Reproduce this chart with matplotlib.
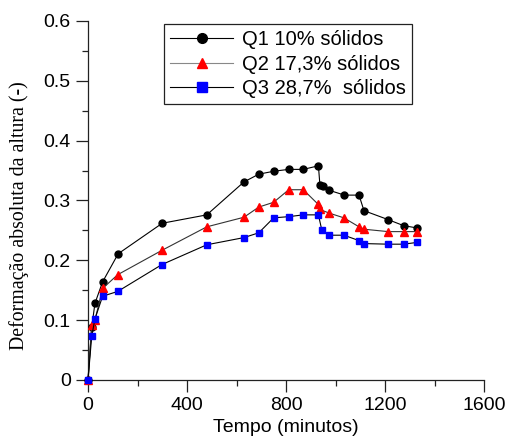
import matplotlib
matplotlib.use("Agg")
import matplotlib.pyplot as plt
from matplotlib.ticker import MultipleLocator, FuncFormatter

# Data
t_q1 = [0, 15, 28, 59, 122, 300, 480, 630, 690, 752, 811, 870, 931, 937, 948, 975, 1036, 1095, 1115, 1213, 1275, 1331]
y_q1 = [0, 0.088, 0.128, 0.164, 0.211, 0.262, 0.276, 0.331, 0.344, 0.349, 0.352, 0.352, 0.358, 0.326, 0.325, 0.317, 0.309, 0.309, 0.283, 0.268, 0.258, 0.254]

t_q2 = [0, 15, 28, 59, 120, 300, 480, 630, 690, 750, 811, 870, 929, 937, 974, 1034, 1095, 1115, 1213, 1275, 1331]
y_q2 = [0, 0.092, 0.100, 0.153, 0.176, 0.217, 0.256, 0.272, 0.289, 0.297, 0.318, 0.318, 0.294, 0.285, 0.279, 0.271, 0.256, 0.252, 0.248, 0.248, 0.248]

t_q3 = [0, 15, 28, 59, 120, 299, 480, 630, 690, 750, 811, 870, 931, 945, 975, 1034, 1095, 1115, 1213, 1275, 1331]
y_q3 = [0, 0.073, 0.102, 0.140, 0.148, 0.193, 0.226, 0.238, 0.246, 0.271, 0.273, 0.276, 0.276, 0.250, 0.242, 0.242, 0.233, 0.228, 0.227, 0.227, 0.230]

labels = ["Q1 10% sólidos", "Q2 17,3% sólidos", "Q3 28,7%  sólidos"]

W, H = 508, 438
fig = plt.figure(figsize=(W / 100, H / 100), dpi=100)
ax = fig.add_axes([88 / W, 1 - 380 / H, (484 - 88) / W, (380 - 21) / H])

sans = "Liberation Sans"
ms = 5.0
lw = 0.8
ax.plot(t_q1, y_q1, color="black", lw=lw, marker="o", ms=ms, mfc="black", mec="black",
        clip_on=False, label=labels[0], zorder=3)
ax.plot(t_q2, y_q2, color="#333333", lw=lw, marker="^", ms=ms + 0.3, mfc="red", mec="red",
        clip_on=False, label=labels[1], zorder=3)
ax.plot(t_q3, y_q3, color="black", lw=lw, marker="s", ms=ms, mfc="blue", mec="blue",
        clip_on=False, label=labels[2], zorder=4)

ax.set_xlim(0, 1600)
ax.set_ylim(0, 0.6)
ax.xaxis.set_major_locator(MultipleLocator(400))
ax.xaxis.set_minor_locator(MultipleLocator(200))
ax.yaxis.set_major_locator(MultipleLocator(0.1))
ax.yaxis.set_minor_locator(MultipleLocator(0.05))
ax.yaxis.set_major_formatter(FuncFormatter(lambda v, p: "0" if abs(v) < 1e-9 else f"{v:.1f}"))

for s in ["top", "right"]:
    ax.spines[s].set_visible(False)
for s in ["left", "bottom"]:
    ax.spines[s].set_color("#222222")
    ax.spines[s].set_linewidth(0.9)

ax.tick_params(which="major", direction="out", length=8.5, width=0.9, color="#222222",
               labelsize=14, pad=4)
ax.tick_params(which="minor", direction="out", length=4.5, width=0.9, color="#222222")
for lab in ax.get_xticklabels() + ax.get_yticklabels():
    lab.set_fontfamily(sans)

ax.set_xlabel("Tempo (minutos)", fontsize=14, fontfamily=sans, labelpad=3)
fig.text(19 / W, 1 - 216 / H, "Deformação absoluta da altura (-)", rotation=90,
         ha="center", va="center", fontsize=14.3, fontfamily="Liberation Serif")

leg = ax.legend(loc="upper left", bbox_to_anchor=(164 / W, 1 - 24 / H),
                bbox_transform=fig.transFigure, borderaxespad=0,
                fancybox=False, frameon=True, edgecolor="#222222", framealpha=1,
                prop={"family": sans, "size": 14.5}, labelspacing=0.26,
                handlelength=3.1, handletextpad=0.45, borderpad=0.32, markerscale=1.4)
leg.get_frame().set_linewidth(0.9)
leg.get_lines()[1].set_color("#888888")

fig.savefig("out.png", dpi=100)
